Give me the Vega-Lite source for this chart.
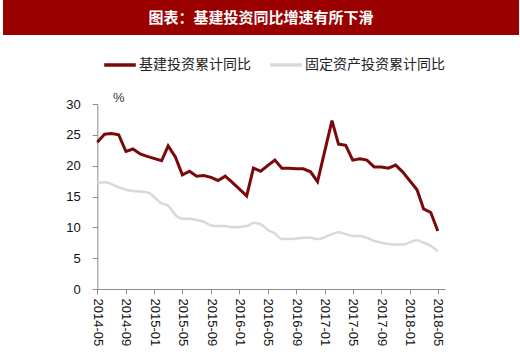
{
  "$schema": "https://vega.github.io/schema/vega-lite/v6.json",
  "background": "white",
  "padding": {"left": 3, "top": 0, "right": 1, "bottom": 5},
  "config": {"view": {"stroke": null}, "concat": {"spacing": 56}},
  "vconcat": [
    {
      "width": 516,
      "height": 35,
      "view": {"fill": "#9b0000", "stroke": null},
      "data": {"values": [{"title": "图表：基建投资同比增速有所下滑"}]},
      "mark": {"type": "text", "color": "white", "font": "Noto Sans CJK SC", "fontSize": 15, "fontWeight": "bold", "align": "center", "baseline": "middle"},
      "encoding": {"text": {"field": "title"}}
    },
    {
      "width": 442,
      "height": 185,
      "data": {"values": [
        {"date": "2014-05-01", "series": "基建投资累计同比", "value": 23.8},
        {"date": "2014-06-01", "series": "基建投资累计同比", "value": 25.1},
        {"date": "2014-07-01", "series": "基建投资累计同比", "value": 25.2},
        {"date": "2014-08-01", "series": "基建投资累计同比", "value": 25.0},
        {"date": "2014-09-01", "series": "基建投资累计同比", "value": 22.3},
        {"date": "2014-10-01", "series": "基建投资累计同比", "value": 22.7},
        {"date": "2014-11-01", "series": "基建投资累计同比", "value": 21.9},
        {"date": "2014-12-01", "series": "基建投资累计同比", "value": 21.5},
        {"date": "2015-02-01", "series": "基建投资累计同比", "value": 20.8},
        {"date": "2015-03-01", "series": "基建投资累计同比", "value": 23.2},
        {"date": "2015-04-01", "series": "基建投资累计同比", "value": 21.4},
        {"date": "2015-05-01", "series": "基建投资累计同比", "value": 18.5},
        {"date": "2015-06-01", "series": "基建投资累计同比", "value": 19.1},
        {"date": "2015-07-01", "series": "基建投资累计同比", "value": 18.3},
        {"date": "2015-08-01", "series": "基建投资累计同比", "value": 18.4},
        {"date": "2015-09-01", "series": "基建投资累计同比", "value": 18.1},
        {"date": "2015-10-01", "series": "基建投资累计同比", "value": 17.6},
        {"date": "2015-11-01", "series": "基建投资累计同比", "value": 18.3},
        {"date": "2015-12-01", "series": "基建投资累计同比", "value": 17.3},
        {"date": "2016-02-01", "series": "基建投资累计同比", "value": 15.1},
        {"date": "2016-03-01", "series": "基建投资累计同比", "value": 19.6},
        {"date": "2016-04-01", "series": "基建投资累计同比", "value": 19.1},
        {"date": "2016-05-01", "series": "基建投资累计同比", "value": 20.0},
        {"date": "2016-06-01", "series": "基建投资累计同比", "value": 20.9},
        {"date": "2016-07-01", "series": "基建投资累计同比", "value": 19.6},
        {"date": "2016-08-01", "series": "基建投资累计同比", "value": 19.6},
        {"date": "2016-09-01", "series": "基建投资累计同比", "value": 19.5},
        {"date": "2016-10-01", "series": "基建投资累计同比", "value": 19.5},
        {"date": "2016-11-01", "series": "基建投资累计同比", "value": 19.0},
        {"date": "2016-12-01", "series": "基建投资累计同比", "value": 17.4},
        {"date": "2017-02-01", "series": "基建投资累计同比", "value": 27.3},
        {"date": "2017-03-01", "series": "基建投资累计同比", "value": 23.5},
        {"date": "2017-04-01", "series": "基建投资累计同比", "value": 23.3},
        {"date": "2017-05-01", "series": "基建投资累计同比", "value": 20.9},
        {"date": "2017-06-01", "series": "基建投资累计同比", "value": 21.1},
        {"date": "2017-07-01", "series": "基建投资累计同比", "value": 20.9},
        {"date": "2017-08-01", "series": "基建投资累计同比", "value": 19.8},
        {"date": "2017-09-01", "series": "基建投资累计同比", "value": 19.8},
        {"date": "2017-10-01", "series": "基建投资累计同比", "value": 19.6},
        {"date": "2017-11-01", "series": "基建投资累计同比", "value": 20.1},
        {"date": "2017-12-01", "series": "基建投资累计同比", "value": 19.0},
        {"date": "2018-02-01", "series": "基建投资累计同比", "value": 16.1},
        {"date": "2018-03-01", "series": "基建投资累计同比", "value": 13.0},
        {"date": "2018-04-01", "series": "基建投资累计同比", "value": 12.4},
        {"date": "2018-05-01", "series": "基建投资累计同比", "value": 9.4},
        {"date": "2014-05-01", "series": "固定资产投资累计同比", "value": 17.2},
        {"date": "2014-06-01", "series": "固定资产投资累计同比", "value": 17.3},
        {"date": "2014-07-01", "series": "固定资产投资累计同比", "value": 17.0},
        {"date": "2014-08-01", "series": "固定资产投资累计同比", "value": 16.5},
        {"date": "2014-09-01", "series": "固定资产投资累计同比", "value": 16.1},
        {"date": "2014-10-01", "series": "固定资产投资累计同比", "value": 15.9},
        {"date": "2014-11-01", "series": "固定资产投资累计同比", "value": 15.8},
        {"date": "2014-12-01", "series": "固定资产投资累计同比", "value": 15.7},
        {"date": "2015-02-01", "series": "固定资产投资累计同比", "value": 13.9},
        {"date": "2015-03-01", "series": "固定资产投资累计同比", "value": 13.5},
        {"date": "2015-04-01", "series": "固定资产投资累计同比", "value": 12.0},
        {"date": "2015-05-01", "series": "固定资产投资累计同比", "value": 11.4},
        {"date": "2015-06-01", "series": "固定资产投资累计同比", "value": 11.4},
        {"date": "2015-07-01", "series": "固定资产投资累计同比", "value": 11.2},
        {"date": "2015-08-01", "series": "固定资产投资累计同比", "value": 10.9},
        {"date": "2015-09-01", "series": "固定资产投资累计同比", "value": 10.3},
        {"date": "2015-10-01", "series": "固定资产投资累计同比", "value": 10.2},
        {"date": "2015-11-01", "series": "固定资产投资累计同比", "value": 10.2},
        {"date": "2015-12-01", "series": "固定资产投资累计同比", "value": 10.0},
        {"date": "2016-02-01", "series": "固定资产投资累计同比", "value": 10.2},
        {"date": "2016-03-01", "series": "固定资产投资累计同比", "value": 10.7},
        {"date": "2016-04-01", "series": "固定资产投资累计同比", "value": 10.5},
        {"date": "2016-05-01", "series": "固定资产投资累计同比", "value": 9.6},
        {"date": "2016-06-01", "series": "固定资产投资累计同比", "value": 9.0},
        {"date": "2016-07-01", "series": "固定资产投资累计同比", "value": 8.1},
        {"date": "2016-08-01", "series": "固定资产投资累计同比", "value": 8.1},
        {"date": "2016-09-01", "series": "固定资产投资累计同比", "value": 8.2},
        {"date": "2016-10-01", "series": "固定资产投资累计同比", "value": 8.3},
        {"date": "2016-11-01", "series": "固定资产投资累计同比", "value": 8.3},
        {"date": "2016-12-01", "series": "固定资产投资累计同比", "value": 8.1},
        {"date": "2017-02-01", "series": "固定资产投资累计同比", "value": 8.9},
        {"date": "2017-03-01", "series": "固定资产投资累计同比", "value": 9.2},
        {"date": "2017-04-01", "series": "固定资产投资累计同比", "value": 8.9},
        {"date": "2017-05-01", "series": "固定资产投资累计同比", "value": 8.6},
        {"date": "2017-06-01", "series": "固定资产投资累计同比", "value": 8.6},
        {"date": "2017-07-01", "series": "固定资产投资累计同比", "value": 8.3},
        {"date": "2017-08-01", "series": "固定资产投资累计同比", "value": 7.8},
        {"date": "2017-09-01", "series": "固定资产投资累计同比", "value": 7.5},
        {"date": "2017-10-01", "series": "固定资产投资累计同比", "value": 7.3},
        {"date": "2017-11-01", "series": "固定资产投资累计同比", "value": 7.2},
        {"date": "2017-12-01", "series": "固定资产投资累计同比", "value": 7.2},
        {"date": "2018-02-01", "series": "固定资产投资累计同比", "value": 7.9},
        {"date": "2018-03-01", "series": "固定资产投资累计同比", "value": 7.5},
        {"date": "2018-04-01", "series": "固定资产投资累计同比", "value": 7.0},
        {"date": "2018-05-01", "series": "固定资产投资累计同比", "value": 6.1}
      ]},
      "encoding": {
        "x": {
          "field": "date",
          "type": "temporal",
          "scale": {
            "type": "utc",
            "domain": [{"year": 2014, "month": 5, "date": 1, "utc": true}, {"year": 2018, "month": 6, "date": 1, "utc": true}],
            "range": [94.3, 442]
          },
          "axis": {
            "title": null,
            "grid": false,
            "values": [
              {"year": 2014, "month": 5, "date": 1, "utc": true},
              {"year": 2014, "month": 9, "date": 1, "utc": true},
              {"year": 2015, "month": 1, "date": 1, "utc": true},
              {"year": 2015, "month": 5, "date": 1, "utc": true},
              {"year": 2015, "month": 9, "date": 1, "utc": true},
              {"year": 2016, "month": 1, "date": 1, "utc": true},
              {"year": 2016, "month": 5, "date": 1, "utc": true},
              {"year": 2016, "month": 9, "date": 1, "utc": true},
              {"year": 2017, "month": 1, "date": 1, "utc": true},
              {"year": 2017, "month": 5, "date": 1, "utc": true},
              {"year": 2017, "month": 9, "date": 1, "utc": true},
              {"year": 2018, "month": 1, "date": 1, "utc": true},
              {"year": 2018, "month": 5, "date": 1, "utc": true}
            ],
            "format": "%Y-%m",
            "labelAngle": 90,
            "labelFont": "Liberation Sans",
            "labelFontSize": 13,
            "labelColor": "#111111",
            "labelPadding": 4,
            "labelOverlap": false,
            "labelFlush": false,
            "labelBound": false,
            "tickSize": 5,
            "tickColor": "#8c8c8c",
            "domainColor": "#8c8c8c"
          }
        },
        "y": {
          "field": "value",
          "type": "quantitative",
          "scale": {"domain": [0, 30], "nice": false},
          "axis": {
            "values": [0, 5, 10, 15, 20, 25, 30],
            "offset": -94.3,
            "grid": false,
            "title": "%",
            "titleAngle": 0,
            "titleX": 21,
            "titleY": -7,
            "titleAlign": "center",
            "titleBaseline": "middle",
            "titleFont": "Liberation Sans",
            "titleFontSize": 13,
            "titleFontWeight": "normal",
            "titleColor": "#333333",
            "labelFont": "Liberation Sans",
            "labelFontSize": 13,
            "labelColor": "#111111",
            "labelPadding": 12,
            "tickSize": 5,
            "tickColor": "#8c8c8c",
            "domainColor": "#8c8c8c"
          }
        },
        "color": {
          "field": "series",
          "type": "nominal",
          "scale": {"domain": ["基建投资累计同比", "固定资产投资累计同比"], "range": ["#7a0a0a", "#d9d9d9"]},
          "legend": {
            "orient": "none",
            "legendX": 99,
            "legendY": 47,
            "direction": "horizontal",
            "title": null,
            "symbolType": "stroke",
            "symbolStrokeWidth": 3.5,
            "symbolSize": 1000,
            "labelFont": "Noto Sans CJK SC",
            "labelFontSize": 14,
            "labelColor": "#222222",
            "labelOffset": 1,
            "columnPadding": 12,
            "padding": 0
          }
        }
      },
      "layer": [
        {
          "transform": [{"filter": "datum.series === '固定资产投资累计同比'"}],
          "mark": {"type": "line", "interpolate": "monotone", "strokeWidth": 2.5}
        },
        {
          "transform": [{"filter": "datum.series === '基建投资累计同比'"}],
          "mark": {"type": "line", "strokeWidth": 3}
        }
      ]
    }
  ]
}
